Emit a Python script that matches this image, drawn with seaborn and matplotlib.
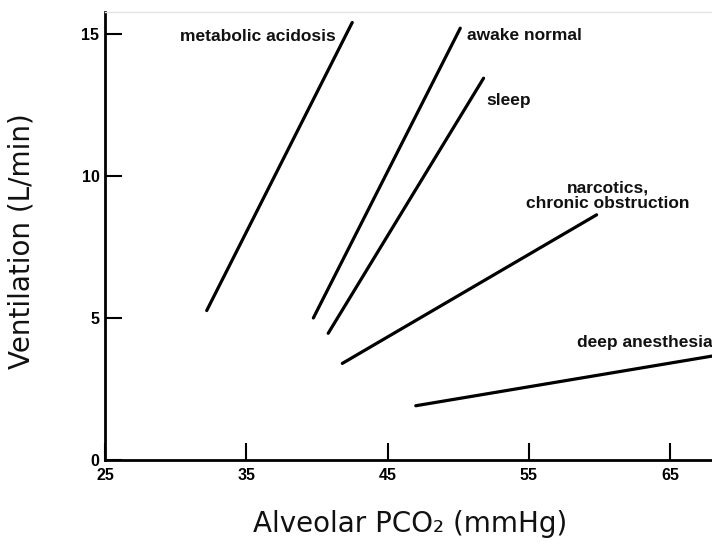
import matplotlib
matplotlib.use("Agg")
import matplotlib.pyplot as plt
import seaborn as sns
import pandas as pd

# Data (endpoints of each response line)
conditions = ["metabolic acidosis", "awake normal", "sleep",
              "narcotics,\nchronic obstruction", "deep anesthesia"]
pco2_start = [32.2, 39.75, 40.8, 41.8, 47.0]
pco2_end = [42.5, 50.15, 51.8, 59.8, 68.0]
vent_start = [5.26, 5.0, 4.46, 3.4, 1.91]
vent_end = [15.4, 15.2, 13.44, 8.63, 3.66]

x_ticks = [25, 35, 45, 55, 65]
y_ticks = [0, 5, 10, 15]

# label anchor positions (data coords)
label_x = [41.3, 50.6, 52.0, 60.6, 58.4]
label_y = [14.9, 14.93, 12.64, 9.3, 4.12]
label_ha = ["right", "left", "left", "center", "left"]

rows = []
for c, x0, x1, y0, y1 in zip(conditions, pco2_start, pco2_end, vent_start, vent_end):
    rows.append({"condition": c, "pco2": x0, "vent": y0})
    rows.append({"condition": c, "pco2": x1, "vent": y1})
df = pd.DataFrame(rows)

sns.set_theme(style="white")
plt.rcParams["font.family"] = ["DejaVu Sans"]

fig = plt.figure(figsize=(7.12, 5.49), dpi=100)
ax = fig.add_axes([105 / 712, 1 - 460 / 549, 607 / 712, 448 / 549])

sns.lineplot(data=df, x="pco2", y="vent", units="condition", estimator=None,
             color="black", linewidth=2.3, ax=ax, legend=False)

ax.set_xlim(25, 67.97)
ax.set_ylim(0, 15.77)
ax.set_xticks(x_ticks)
ax.set_yticks(y_ticks)

tick_font = dict(family=["Liberation Sans", "DejaVu Sans"], weight="bold", size=11.5)
ax.set_xticklabels([str(t) for t in x_ticks], fontdict=tick_font)
ax.set_yticklabels([str(t) for t in y_ticks], fontdict=tick_font)
ax.tick_params(axis="x", direction="in", length=12, width=1.5, pad=6, colors="black", bottom=True)
ax.tick_params(axis="y", direction="in", length=12, width=1.5, pad=4, colors="black", left=True)

ax.spines["right"].set_visible(False)
ax.spines["top"].set_color("#e4e4e4")
ax.spines["top"].set_linewidth(1.0)
for s in ["left", "bottom"]:
    ax.spines[s].set_linewidth(2.0)
    ax.spines[s].set_color("black")

for c, lx, ly, ha in zip(conditions, label_x, label_y, label_ha):
    ax.text(lx, ly, c, ha=ha, va="center", fontsize=12.5, fontweight="bold",
            family=["Liberation Sans", "DejaVu Sans"], color="#111111",
            linespacing=1.0, clip_on=False)

ax.set_xlabel("Alveolar PCO\u2082 (mmHg)", fontsize=20, color="#111111")
ax.set_ylabel("Ventilation (L/min)", fontsize=20, color="#111111")
ax.xaxis.set_label_coords((410 - 105) / 607, (460 - 510) / 448)
ax.yaxis.set_label_coords((36 - 105) / 607, (460 - 241) / 448)

fig.savefig("out.png", dpi=100)
